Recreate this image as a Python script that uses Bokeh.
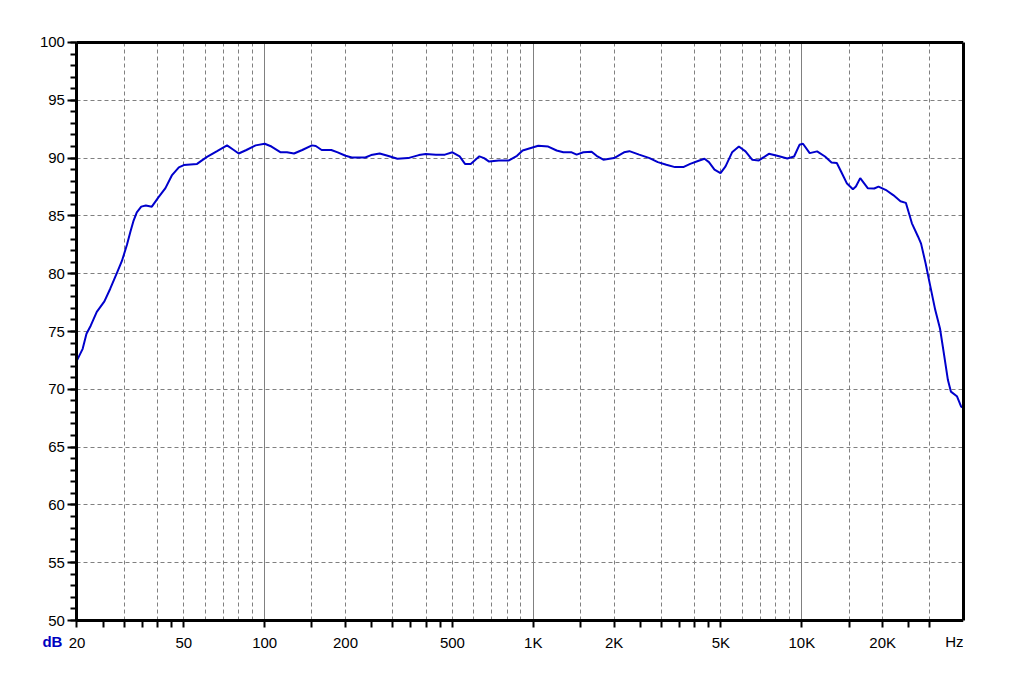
from bokeh.plotting import figure
from bokeh.models import Range1d, FixedTicker, Grid, Label, LogAxis, LinearAxis
from bokeh.embed import file_html
from bokeh.resources import INLINE

# Frequency response (Hz, dB SPL)
freq = [20, 21, 21.7, 22.5, 23.7, 25.3, 26.6, 28.2, 29.4, 30.7, 31.6, 32.5, 33.4, 34.7, 36.1, 38.0,
        40.2, 42.7, 45.1, 47.9, 50, 56, 58.4, 61, 66.5, 72.4, 76.7, 80, 85.5, 92.5,
        100, 106, 114.7, 121, 128.6, 138, 150, 155, 163, 177, 187, 200, 211, 237, 249, 268, 287,
        312, 342, 375, 398, 434, 469, 500, 532, 557, 585, 630, 656, 685, 744, 812, 870, 913,
        1044, 1137, 1222, 1294, 1390, 1451, 1537, 1649, 1721, 1824, 2000, 2178, 2280, 2480,
        2710, 2910, 3130, 3370, 3620, 3840, 4130, 4340, 4510, 4730, 4980, 5200, 5500, 5830,
        6170, 6530, 6920, 7540, 8100, 8830, 9360, 9800, 10100, 10700, 11400, 12200, 12900,
        13500, 14000, 14700, 15500, 15900, 16500, 17600, 18600, 19300, 20700, 21900, 23300,
        24400, 25700, 27100, 27800, 28900, 30100, 31400, 32700, 33800, 35000, 35900, 37800,
        39200, 40000]
spl = [72.5, 73.5, 74.8, 75.5, 76.7, 77.6, 78.7, 80.1, 81.1, 82.5, 83.6, 84.6, 85.3, 85.8, 85.9, 85.8,
       86.6, 87.4, 88.5, 89.2, 89.4, 89.5, 89.8, 90.1, 90.6, 91.1, 90.7, 90.4, 90.7, 91.1,
       91.24, 91.0, 90.5, 90.5, 90.4, 90.7, 91.1, 91.05, 90.7, 90.7, 90.5, 90.2, 90.05, 90.05, 90.26, 90.4, 90.2,
       89.94, 90.0, 90.26, 90.35, 90.3, 90.3, 90.5, 90.15, 89.5, 89.5, 90.15, 90.0, 89.7, 89.8, 89.8, 90.2, 90.66,
       91.07, 91.0, 90.66, 90.5, 90.5, 90.3, 90.5, 90.55, 90.2, 89.86, 90.0, 90.5, 90.6, 90.3,
       90.0, 89.65, 89.42, 89.22, 89.22, 89.5, 89.77, 89.94, 89.65, 89.0, 88.7, 89.28, 90.5, 91.0,
       90.58, 89.86, 89.8, 90.37, 90.2, 89.97, 90.14, 91.15, 91.24, 90.43, 90.58, 90.14, 89.62,
       89.57, 88.84, 87.83, 87.31, 87.54, 88.27, 87.4, 87.37, 87.54, 87.2, 86.8, 86.27,
       86.13, 84.36, 83.2, 82.6, 80.9, 78.9, 76.85, 75.26, 73.1, 70.8, 69.8, 69.4,
       68.5, 68.4]

x_ticks = [20, 25, 30, 35, 40, 45, 50,
           100, 150, 200, 250, 300, 350, 400, 450, 500,
           1000, 1500, 2000, 2500, 3000, 3500, 4000, 4500, 5000,
           10000, 15000, 20000, 25000, 30000]
x_labels = {20: "20", 50: "50", 100: "100", 200: "200", 500: "500",
            1000: "1K", 2000: "2K", 5000: "5K", 10000: "10K", 20000: "20K"}
x_grid_dashed = [30, 40, 50, 60, 70, 80, 90,
                 150, 200, 300, 400, 500, 600, 700, 800, 900,
                 1500, 2000, 3000, 4000, 5000, 6000, 7000, 8000, 9000,
                 15000, 20000, 30000]
x_grid_solid = [100, 1000, 10000]
y_ticks = [50, 55, 60, 65, 70, 75, 80, 85, 90, 95, 100]
y_minor = list(range(50, 101))

F_MIN, F_MAX = 20, 40000
DB_MIN, DB_MAX = 50, 100

FONT = "Liberation Sans"
GRID = "#808080"

# the frame is extended around the data box so labels drawn at fixed axis
# locations and the unit labels stay inside it
p = figure(x_axis_type="log",
           x_range=Range1d(14.38, F_MAX), y_range=Range1d(47.578, 100.865),
           output_backend="svg", toolbar_location=None,
           min_border_left=38, min_border_top=32, min_border_right=37, min_border_bottom=10)
p.frame_width = 925
p.frame_height = 616
p.background_fill_color = "white"
p.border_fill_color = "white"
p.outline_line_color = None

# grids limited to the data box
p.xgrid.ticker = FixedTicker(ticks=x_grid_dashed)
p.xgrid.grid_line_color = GRID
p.xgrid.grid_line_dash = "4 3"
p.xgrid.cross_bounds = (DB_MIN, DB_MAX)
p.ygrid.ticker = FixedTicker(ticks=y_ticks)
p.ygrid.grid_line_color = GRID
p.ygrid.grid_line_dash = "4 3"
p.ygrid.cross_bounds = (F_MIN, F_MAX)
p.add_layout(Grid(dimension=0, ticker=FixedTicker(ticks=x_grid_solid),
                  grid_line_color=GRID, grid_line_width=1,
                  cross_bounds=(DB_MIN, DB_MAX)))

# x axis (placed at 50 dB)
xa = p.xaxis[0]
xa.fixed_location = DB_MIN
xa.bounds = (F_MIN, F_MAX)
xa.ticker = FixedTicker(ticks=x_ticks, minor_ticks=[])
xa.major_label_overrides = {t: x_labels.get(t, "") for t in x_ticks}
xa.axis_line_width = 3
xa.axis_line_color = "black"
xa.major_tick_in = 0
xa.major_tick_out = 7
xa.major_tick_line_width = 2
xa.major_tick_line_color = "black"
xa.minor_tick_line_color = None
xa.major_label_text_font = FONT
xa.major_label_text_font_size = "15px"
xa.major_label_text_color = "black"
xa.major_label_standoff = 6

# y axis (placed at 20 Hz)
ya = p.yaxis[0]
ya.fixed_location = F_MIN
ya.bounds = (DB_MIN, DB_MAX)
ya.ticker = FixedTicker(ticks=y_ticks, minor_ticks=y_minor)
ya.axis_line_width = 3
ya.axis_line_color = "black"
ya.major_tick_in = 0
ya.major_tick_out = 9
ya.major_tick_line_width = 2
ya.major_tick_line_color = "black"
ya.minor_tick_in = 0
ya.minor_tick_out = 6
ya.minor_tick_line_width = 2
ya.minor_tick_line_color = "black"
ya.major_label_text_font = FONT
ya.major_label_text_font_size = "15px"
ya.major_label_text_color = "black"
ya.major_label_standoff = 3

# top and right border lines of the data box
top = LogAxis(bounds=(F_MIN, F_MAX), fixed_location=DB_MAX, ticker=FixedTicker(ticks=[]),
              axis_line_width=3, axis_line_color="black",
              major_tick_line_color=None, minor_tick_line_color=None,
              major_label_text_font_size="0px")
right = LinearAxis(bounds=(DB_MIN, DB_MAX), ticker=FixedTicker(ticks=[]),
                   axis_line_width=3, axis_line_color="black",
                   major_tick_line_color=None, minor_tick_line_color=None,
                   major_label_text_font_size="0px")
p.add_layout(top, "above")
p.add_layout(right, "right")

# curve
p.line(freq, spl, line_color="#0000CC", line_width=2)

# unit labels
p.add_layout(Label(x=16.2, y=48.18, text="dB", text_font=FONT, text_font_size="15px",
                   text_font_style="bold", text_color="#0000C0",
                   text_align="center", text_baseline="middle"))
p.add_layout(Label(x=F_MAX, y=48.18, text="Hz", text_font=FONT, text_font_size="15px",
                   text_color="black", text_align="right", text_baseline="middle"))

open("out.html", "w").write(file_html(p, INLINE))
